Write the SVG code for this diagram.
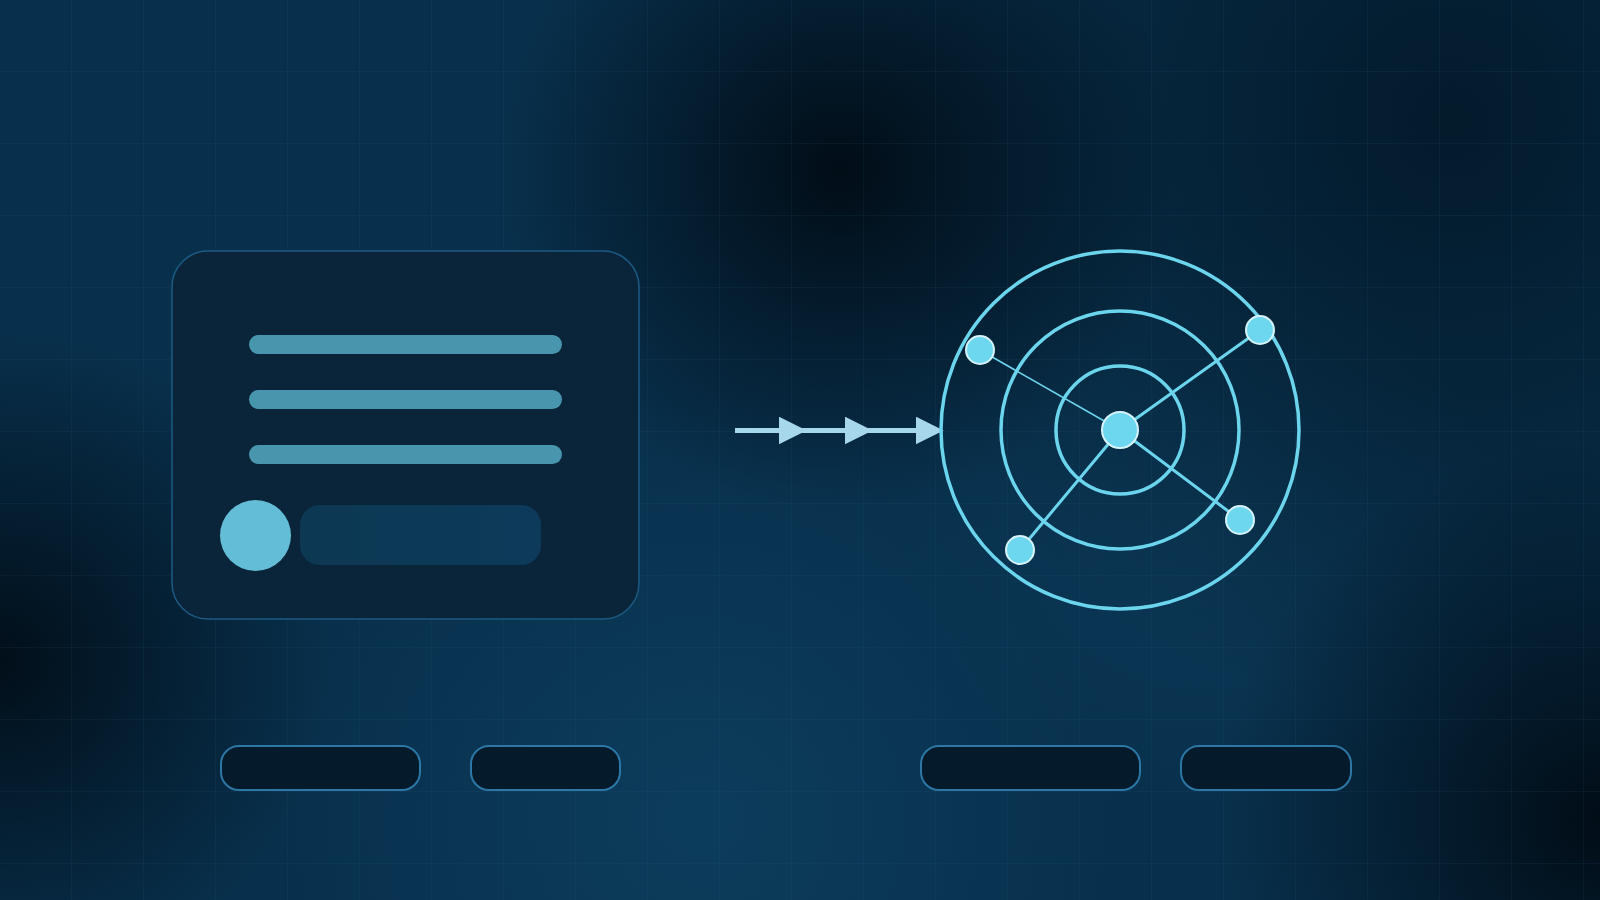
<svg xmlns="http://www.w3.org/2000/svg" width="1600" height="900" viewBox="0 0 1600 900">
<defs>
<style>
.bar{fill:#4896ae}
.pill{fill:#051a2b;stroke:#2d77a6;stroke-width:2}
.ring{fill:none;stroke:#6cd5ee;stroke-width:3.5}
.spoke{stroke:#6cd5ee;stroke-width:3}
.node{fill:#6dd7ef;stroke:#d6f3fa;stroke-width:2}
</style>
<pattern id="grid" width="72" height="72" patternUnits="userSpaceOnUse">
<path d="M72 0V72M0 72H72" fill="none" stroke="#2b6488" stroke-width="1" opacity="0.22"/>
</pattern>
<radialGradient id="d1" cx="840" cy="170" r="340" gradientUnits="userSpaceOnUse">
<stop offset="0" stop-color="#010b14" stop-opacity="0.95"/>
<stop offset="1" stop-color="#010b14" stop-opacity="0"/>
</radialGradient>
<radialGradient id="d2" cx="1600" cy="820" r="380" gradientUnits="userSpaceOnUse">
<stop offset="0" stop-color="#010b14" stop-opacity="0.95"/>
<stop offset="1" stop-color="#010b14" stop-opacity="0"/>
</radialGradient>
<radialGradient id="d3" cx="0" cy="660" r="330" gradientUnits="userSpaceOnUse">
<stop offset="0" stop-color="#010b14" stop-opacity="0.9"/>
<stop offset="1" stop-color="#010b14" stop-opacity="0"/>
</radialGradient>
<radialGradient id="d4" cx="1450" cy="120" r="600" gradientUnits="userSpaceOnUse">
<stop offset="0" stop-color="#021523" stop-opacity="0.8"/>
<stop offset="1" stop-color="#021523" stop-opacity="0"/>
</radialGradient>
<radialGradient id="b1" cx="700" cy="820" r="420" gradientUnits="userSpaceOnUse">
<stop offset="0" stop-color="#0d3e5e" stop-opacity="0.9"/>
<stop offset="1" stop-color="#0d3e5e" stop-opacity="0"/>
</radialGradient>
<radialGradient id="b2" cx="1200" cy="520" r="300" gradientUnits="userSpaceOnUse">
<stop offset="0" stop-color="#0d3c5b" stop-opacity="0.7"/>
<stop offset="1" stop-color="#0d3c5b" stop-opacity="0"/>
</radialGradient>
<linearGradient id="pillBar" x1="0" x2="1">
<stop offset="0" stop-color="#0c3853"/>
<stop offset="1" stop-color="#0d3a5a"/>
</linearGradient>
<marker id="ah" viewBox="0 0 10 10" refX="8" refY="5" markerWidth="28" markerHeight="28" markerUnits="userSpaceOnUse" orient="auto">
<path d="M0 0L10 5L0 10Z" fill="#a6d7eb"/>
</marker>
</defs>
<g id="background">
<rect width="1600" height="900" fill="#08304c"/>
<rect width="1600" height="900" fill="url(#b1)"/>
<rect width="1600" height="900" fill="url(#b2)"/>
<rect width="1600" height="900" fill="url(#d4)"/>
<rect width="1600" height="900" fill="url(#d1)"/>
<rect width="1600" height="900" fill="url(#d2)"/>
<rect width="1600" height="900" fill="url(#d3)"/>
<rect width="1600" height="900" fill="url(#grid)"/>
</g>
<g id="card">
<rect x="172" y="251" width="467" height="368" rx="36" fill="#0a2539" stroke="#1c5a84" stroke-width="1.5"/>
<rect class="bar" x="249" y="335" width="313" height="19" rx="9.5"/>
<rect class="bar" x="249" y="390" width="313" height="19" rx="9.5"/>
<rect class="bar" x="249" y="445" width="313" height="19" rx="9.5"/>
<circle cx="255.5" cy="535.5" r="35.5" fill="#63bdd7"/>
<rect x="300" y="505" width="241" height="60" rx="20" fill="url(#pillBar)"/>
</g>
<g id="connectors">
<path d="M735 430.5H938" fill="none" stroke="#a6d7eb" stroke-width="5" marker-end="url(#ah)"/>
<path d="M735 430.5H801" fill="none" stroke="none" marker-end="url(#ah)"/>
<path d="M801 430.5H867" fill="none" stroke="none" marker-end="url(#ah)"/>
</g>
<g id="radar">
<circle class="ring" cx="1120" cy="430" r="179"/>
<circle class="ring" cx="1120" cy="430" r="119"/>
<circle class="ring" cx="1120" cy="430" r="64"/>
<line x1="1120" y1="430" x2="980" y2="350" stroke="#6cd5ee" stroke-width="1.6"/>
<line class="spoke" x1="1120" y1="430" x2="1260" y2="330"/>
<line class="spoke" x1="1120" y1="430" x2="1020" y2="550"/>
<line class="spoke" x1="1120" y1="430" x2="1240" y2="520"/>
</g>
<g id="node-center"><circle class="node" cx="1120" cy="430" r="18"/></g>
<g id="node-nw"><circle class="node" cx="980" cy="350" r="14"/></g>
<g id="node-ne"><circle class="node" cx="1260" cy="330" r="14"/></g>
<g id="node-sw"><circle class="node" cx="1020" cy="550" r="14"/></g>
<g id="node-se"><circle class="node" cx="1240" cy="520" r="14"/></g>
<g id="pill-1"><rect class="pill" x="221" y="746" width="199" height="44" rx="18"/></g>
<g id="pill-2"><rect class="pill" x="471" y="746" width="149" height="44" rx="18"/></g>
<g id="pill-3"><rect class="pill" x="921" y="746" width="219" height="44" rx="18"/></g>
<g id="pill-4"><rect class="pill" x="1181" y="746" width="170" height="44" rx="18"/></g>
</svg>
